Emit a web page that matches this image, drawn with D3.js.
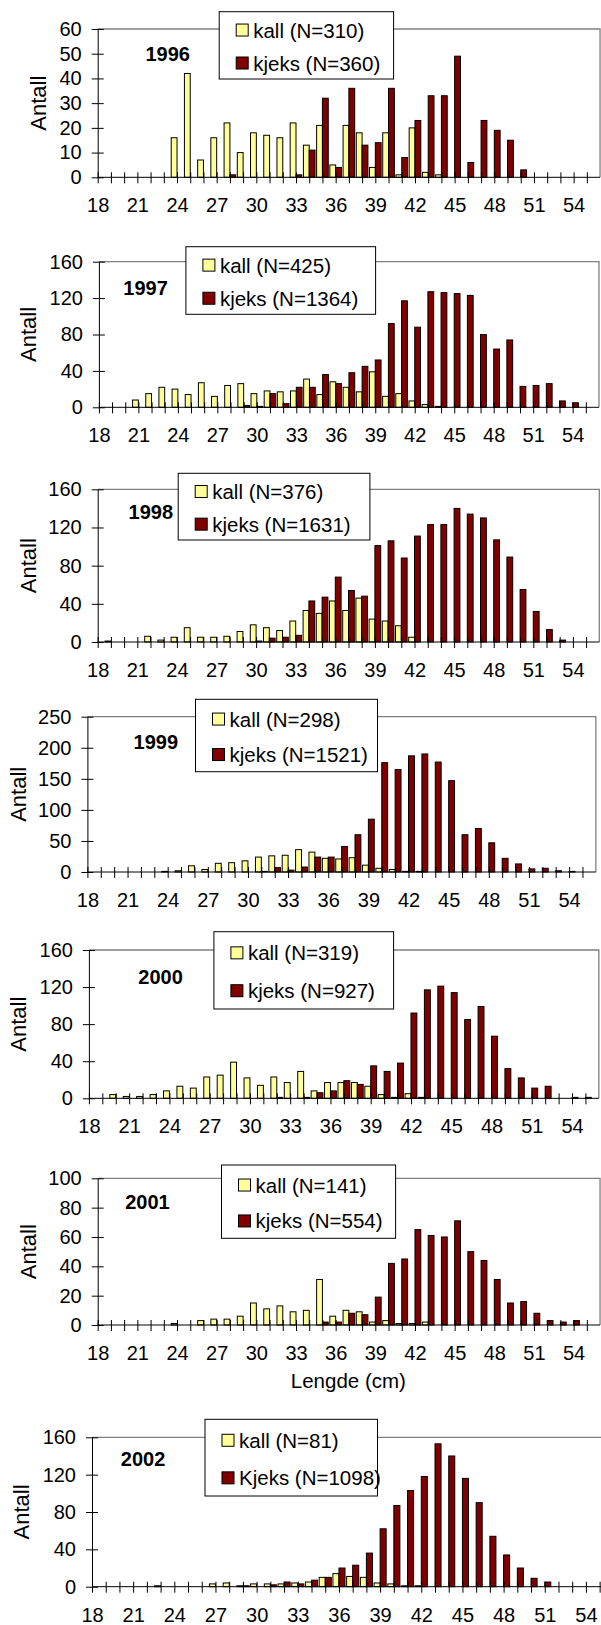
<!DOCTYPE html>
<html><head><meta charset="utf-8">
<script src="https://cdn.jsdelivr.net/npm/d3@7"></script>
<style>
html,body{margin:0;padding:0;background:#fff;}
svg text{font-family:"Liberation Sans",Arial,Helvetica,sans-serif;fill:#000;}
</style></head><body>
<svg id="chart" width="601" height="1625"></svg>
<script>
// ---------- DATA ----------
const lengths = d3.range(18, 56); // length classes 18..55 cm
const tickLabels = [18, 21, 24, 27, 30, 33, 36, 39, 42, 45, 48, 51, 54];
const years = ["1996", "1997", "1998", "1999", "2000", "2001", "2002"];
const legendKall = ["kall (N=310)", "kall (N=425)", "kall (N=376)", "kall (N=298)", "kall (N=319)", "kall (N=141)", "kall (N=81)"];
const legendKjeks = ["kjeks (N=360)", "kjeks (N=1364)", "kjeks (N=1631)", "kjeks (N=1521)", "kjeks (N=927)", "kjeks (N=554)", "Kjeks (N=1098)"];
const yMax = [60, 160, 160, 250, 160, 100, 160];
const yStep = [10, 40, 40, 50, 40, 20, 40];

//                 18 19 20 21 22 23 24 25 26 27 28 29 30 31 32 33 34 35 36 37 38 39 40  41  42  43  44  45  46  47  48  49 50 51 52 53 54 55
const kall1996  = [0, 0, 0, 0, 0, 0, 16,42, 7,16,22,10,18,17,16,22,13,21, 5,21,18, 4,18,  1, 20,  2,  1,  0,  0,  0,  0,  0, 0, 0, 0, 0, 0, 0];
const kjeks1996 = [0, 0, 0, 0, 0, 0, 0, 0, 0, 0, 1, 0, 0, 0, 0, 1,11,32, 4,36,13,14,36,  8, 23, 33, 33, 49,  6, 23, 19, 15, 3, 0, 0, 0, 0, 0];
const kall1997  = [0, 0, 0, 8,15,22,20,14,27,12,24,26,15,18,17,18,31,14,28,22,17,39,12, 15,  7,  3,  1,  0,  0,  0,  0,  0, 0, 0, 0, 0, 0, 0];
const kjeks1997 = [0, 0, 0, 0, 0, 0, 0, 0, 0, 0, 0, 2, 1,15, 4,22,22,36,26,38,45,52,92,117, 88,127,126,125,123, 80, 64, 74,23,24,26, 7, 5, 0];
const kall1998  = [0, 1, 0, 0, 6, 2, 5,15, 5, 5, 6,11,18,15,12,22,33,30,43,33,46,24,22, 17,  5,  0,  0,  0,  0,  0,  0,  0, 0, 0, 0, 0, 0, 0];
const kjeks1998 = [0, 0, 0, 0, 0, 0, 0, 0, 0, 0, 0, 0, 1, 4, 5, 7,43,47,68,54,48,101,106,88,111,123,123,140,134,130,107, 89,55,32,13, 2, 0, 0];
const kall1999  = [0, 0, 0, 0, 0, 0, 1, 2,10, 4,14,15,18,24,26,27,36,32,22,21,23,11, 6,  4,  1,  1,  0,  0,  0,  0,  0,  0, 0, 0, 0, 0, 0, 0];
const kjeks1999 = [0, 0, 0, 0, 0, 0, 0, 0, 0, 0, 0, 0, 0, 1, 7, 3, 8,24,24,41,60,85,176,165,187,190,177,147, 60, 70, 47, 22,13, 5, 6, 2, 1, 0];
const kall2000  = [0, 0, 4, 2, 2, 4, 8,13,11,23,25,39,22,14,23,17,29, 8,17,17,17,13, 4,  1,  5,  1,  0,  0,  0,  0,  0,  0, 0, 0, 0, 0, 0, 0];
const kjeks2000 = [0, 0, 0, 0, 0, 0, 0, 0, 0, 0, 0, 0, 0, 0, 1, 0, 1, 6, 8,19,15,35,29, 38, 92,117,121,114, 85, 99, 67, 32,22,11,13, 0, 1, 1];
const kall2001  = [0, 0, 0, 0, 0, 0, 1, 0, 3, 4, 4, 6,15,11,13, 9,10,31, 6,10, 9, 2, 3,  1,  1,  2,  0,  0,  0,  0,  0,  0, 0, 0, 0, 0, 0, 0];
const kjeks2001 = [0, 0, 0, 0, 0, 0, 0, 0, 0, 0, 0, 0, 0, 0, 0, 0, 0, 2, 2, 8, 7,19,42, 45, 65, 61, 60, 71, 50, 44, 31, 15,16, 8, 3, 2, 3, 0];
const kall2002  = [0, 0, 0, 0, 0, 1, 0, 0, 0, 3, 4, 1, 3, 3, 3, 4, 5,10,14,11,10, 4, 3,  1,  1,  0,  0,  0,  0,  0,  0,  0, 0, 0, 0, 0, 0, 0];
const kjeks2002 = [0, 0, 0, 0, 0, 0, 0, 0, 0, 0, 0, 1, 0, 2, 5, 3, 7,10,20,23,36,62,87,103,118,153,140,116, 90, 54, 34, 20, 9, 5, 0, 0, 0, 0];

const kallSeries  = [kall1996, kall1997, kall1998, kall1999, kall2000, kall2001, kall2002];
const kjeksSeries = [kjeks1996, kjeks1997, kjeks1998, kjeks1999, kjeks2000, kjeks2001, kjeks2002];

// ---------- LAYOUT (positions only) ----------
const layout = [
  {L: 97.7, step: 13.22, top: 29,     bottom: 177.3,  leg: [219.2, 11.7, 174.4, 67.3],  yr: [167.7, 54],     ax: 38},
  {L: 98.9, step: 13.16, top: 261.7,  bottom: 407.3,  leg: [185.9, 246.7, 189.7, 67.6], yr: [145.6, 288.3],  ax: 28.7},
  {L: 97.7, step: 13.2,  top: 489.3,  bottom: 642,    leg: [178.2, 473.3, 191.7, 66.7], yr: [150.8, 511.7],  ax: 28},
  {L: 87.4, step: 13.38, top: 716.7,  bottom: 872,    leg: [195.5, 699.3, 182, 72.4],   yr: [155.8, 741.7],  ax: 18},
  {L: 88.9, step: 13.42, top: 950,    bottom: 1098.3, leg: [213.9, 931.7, 179.7, 77.3], yr: [160.6, 977.3],  ax: 18.6},
  {L: 97.7, step: 13.22, top: 1178.3, bottom: 1325,   leg: [221.5, 1165, 174.1, 73.3],  yr: [147.5, 1202.3], ax: 28.7},
  {L: 92,   step: 13.72, top: 1437.3, bottom: 1586.7, leg: [205, 1419.3, 172.5, 76.7],  yr: [143.1, 1459],   ax: 21.9}
];

const YELLOW = "#FFFF99", RED = "#800000", FRAME = "#808080";
const FONT = '"Liberation Sans",Arial,sans-serif';
const svg = d3.select("#chart");

years.forEach((yr, pi) => {
  const p = layout[pi];
  const g = svg.append("g");
  const x = d3.scaleLinear().domain([18, 56]).range([p.L, p.L + 38 * p.step]);
  const y = d3.scaleLinear().domain([0, yMax[pi]]).range([p.bottom, p.top]);
  const bw = p.step * 0.44;

  // gray frame (top + right)
  g.append("path")
    .attr("d", `M${x(18)},${y(yMax[pi])}H${x(56)}V${y(0)}`)
    .attr("fill", "none").attr("stroke", FRAME).attr("stroke-width", 1.3);

  // bars
  const kall = kallSeries[pi], kjeks = kjeksSeries[pi];
  g.append("g").selectAll("rect").data(lengths.map((c, i) => ({c, v: kall[i]})).filter(d => d.v > 0))
    .join("rect")
    .attr("x", d => x(d.c) - bw).attr("width", bw)
    .attr("y", d => y(d.v)).attr("height", d => y(0) - y(d.v))
    .attr("fill", YELLOW).attr("stroke", "#000").attr("stroke-width", 1);
  g.append("g").selectAll("rect").data(lengths.map((c, i) => ({c, v: kjeks[i]})).filter(d => d.v > 0))
    .join("rect")
    .attr("x", d => x(d.c)).attr("width", bw)
    .attr("y", d => y(d.v)).attr("height", d => y(0) - y(d.v))
    .attr("fill", RED).attr("stroke", "#000").attr("stroke-width", 1);

  // y axis
  const ya = g.append("g").attr("transform", `translate(${x(18)},0)`)
    .call(d3.axisLeft(y).tickValues(d3.range(0, yMax[pi] + 1, yStep[pi]))
      .tickSize(6).tickSizeOuter(0).tickPadding(10).tickFormat(d3.format("d")));
  ya.selectAll(".tick line").attr("x1", 6).attr("stroke", "#000");
  ya.select(".domain").attr("stroke", "#000");
  ya.selectAll("text").attr("font-size", 20).style("font-family", FONT);

  // x axis
  const xa = g.append("g").attr("transform", `translate(0,${y(0)})`)
    .call(d3.axisBottom(x).tickValues(lengths).tickSize(6).tickSizeOuter(0).tickPadding(15)
      .tickFormat(d => tickLabels.includes(d) ? String(d) : ""));
  xa.selectAll(".tick line").attr("y1", -5).attr("stroke", "#000");
  xa.select(".domain").attr("stroke", "#000").attr("d", `M${x(18)},0H${x(56)}`);
  xa.selectAll("text").attr("font-size", 20).style("font-family", FONT);

  // y label
  g.append("text").attr("transform", `translate(${p.ax + 7.5},${(p.top + p.bottom) / 2}) rotate(-90)`)
    .attr("text-anchor", "middle").attr("font-size", 22).text("Antall");

  // year
  g.append("text").attr("x", p.yr[0]).attr("y", p.yr[1] + 7)
    .attr("text-anchor", "middle").attr("font-size", 20).attr("font-weight", "bold").text(yr);

  // legend
  const [lx, ly, lw, lh] = p.leg;
  const lg = g.append("g");
  lg.append("rect").attr("x", lx).attr("y", ly).attr("width", lw).attr("height", lh)
    .attr("fill", "#fff").attr("stroke", "#000").attr("stroke-width", 1);
  const rows = [
    {fill: YELLOW, label: legendKall[pi], cy: ly + lh * 0.28},
    {fill: RED, label: legendKjeks[pi], cy: ly + lh * 0.77}
  ];
  rows.forEach(r => {
    lg.append("rect").attr("x", lx + 17).attr("y", r.cy - 6.5).attr("width", 12).attr("height", 12)
      .attr("fill", r.fill).attr("stroke", "#000").attr("stroke-width", 1);
    lg.append("text").attr("x", lx + 34).attr("y", r.cy + 7).attr("font-size", 20.5).text(r.label);
  });

  if (yr === "2001") {
    g.append("text").attr("x", (p.L + 599) / 2).attr("y", 1388)
      .attr("text-anchor", "middle").attr("font-size", 20.5).text("Lengde (cm)");
  }
});
</script>
</body></html>
